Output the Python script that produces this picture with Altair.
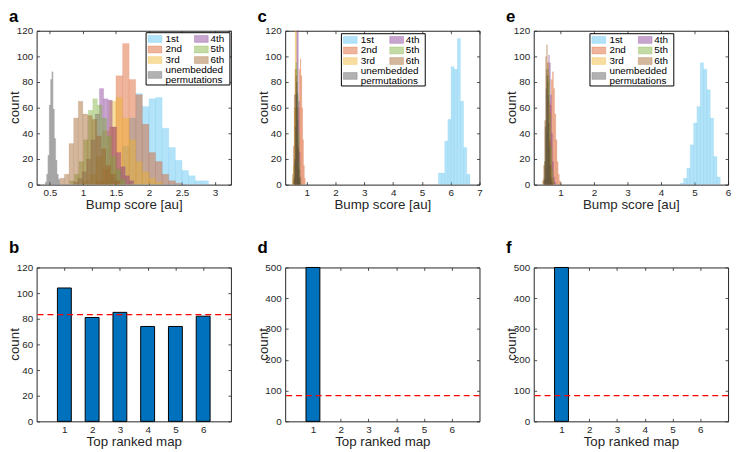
import altair as alt
import pandas as pd

# ---------------- data ----------------
SERIES = ["1st", "2nd", "3rd", "4th", "5th", "6th", "unembedded"]
SERIES_COLORS = ["#4DBEEE", "#D95319", "#EDB120", "#7E2F8E", "#77AC30", "#9C5A1E", "#4D4D4D"]
LEGEND_LABELS = ["1st", "2nd", "3rd", "4th", "5th", "6th", "unembedded", "permutations"]

# histograms: (first bin edge, bin width, counts per bin)
a_1st = (1.3, 0.1, [2, 5, 12, 30, 52, 71, 61, 67, 68, 44, 29, 19, 11, 7, 3, 3])
a_2nd = (1.2, 0.1, [3, 12, 45, 85, 110, 82, 70, 47, 25, 18, 8, 3, 1])
a_3rd = (1.0, 0.1, [3, 8, 22, 42, 65, 68, 52, 35, 18, 10, 5, 2])
a_4th = (0.86, 0.065, [2, 5, 10, 20, 35, 55, 75, 67, 66, 45, 25, 14, 7, 3])
a_5th = (0.80, 0.07, [3, 8, 18, 35, 58, 67, 62, 52, 38, 22, 12, 4])
a_6th = (0.65, 0.07, [5, 8, 32, 52, 65, 55, 54, 51, 38, 28, 15, 8, 3])
a_unemb = (0.43, 0.02, [2, 8, 23, 62, 82, 88, 59, 36, 19, 8, 4])

c_1st = (5.57, 0.11, [9, 9, 34, 51, 92, 90, 114, 65, 29, 8])
c_2nd = (0.62, 0.03, [4, 12, 30, 60, 90, 98, 85, 60, 35, 15, 5])
c_3rd = (0.50, 0.03, [3, 15, 60, 150, 140, 80, 35, 12, 5])
c_4th = (0.56, 0.03, [4, 20, 70, 160, 150, 65, 25, 6])
c_5th = (0.53, 0.03, [5, 20, 60, 95, 90, 70, 40, 18, 5])
c_6th = (0.50, 0.03, [8, 30, 70, 90, 85, 60, 30, 12, 5])
c_unemb = (0.56, 0.02, [5, 18, 45, 70, 80, 72, 50, 28, 12, 4])

e_1st = (4.57, 0.1, [1, 5, 13, 31, 48, 61, 95, 90, 74, 52, 22, 6])
e_2nd = (0.58, 0.035, [4, 12, 35, 62, 82, 88, 75, 55, 35, 18, 8, 3])
e_3rd = (0.49, 0.03, [3, 15, 45, 85, 95, 85, 55, 28, 12, 4])
e_4th = (0.52, 0.03, [3, 12, 40, 80, 101, 95, 70, 40, 18, 6, 2])
e_5th = (0.50, 0.03, [4, 18, 50, 80, 90, 82, 55, 30, 12, 4])
e_6th = (0.46, 0.03, [3, 15, 50, 100, 109, 95, 65, 35, 15, 5, 2])
e_unemb = (0.50, 0.02, [5, 18, 45, 75, 90, 85, 70, 48, 30, 15, 6, 2])

A_XDOMAIN = [0.3, 3.24]
A_XTICKS = [0.5, 1, 1.5, 2, 2.5, 3]
C_XDOMAIN = [0.25, 7]
C_XTICKS = [1, 2, 3, 4, 5, 6, 7]
E_XDOMAIN = [0.2, 6]
E_XTICKS = [1, 2, 3, 4, 5, 6]
HIST_YTICKS = [0, 20, 40, 60, 80, 100, 120]

MAPS = [1, 2, 3, 4, 5, 6]
b_counts = [104, 81, 85, 74, 74, 82]
d_counts = [500, 0, 0, 0, 0, 0]
f_counts = [500, 0, 0, 0, 0, 0]
EXPECTED = 83.3
B_YTICKS = [0, 20, 40, 60, 80, 100, 120]
DF_YTICKS = [0, 100, 200, 300, 400, 500]

# ---------------- style / layout ----------------
W, H = 197, 156
FONT = "Liberation Sans"
INK = "#262626"
ONE = pd.DataFrame({"k": [0]})
color_scale = alt.Scale(domain=SERIES, range=SERIES_COLORS)
FILL_OP = 0.43


def hist_df(series_list):
    rows = []
    for name, (start, width, counts) in zip(SERIES, series_list):
        for i, c in enumerate(counts):
            lo = start + i * width
            rows.append({"series": name, "lo": lo, "hi": lo + width, "count": c})
    return pd.DataFrame(rows)


def letter(ch, y):
    return alt.Chart(ONE).mark_text(
        align="left", baseline="alphabetic", fontSize=17, fontWeight="bold", color="black"
    ).encode(x=alt.value(-28), y=alt.value(y), text=alt.value(ch))


def ytitle():
    return alt.Chart(ONE).mark_text(
        align="center", baseline="bottom", angle=270, fontSize=13.5, color=INK
    ).encode(x=alt.value(-14.5), y=alt.value(H / 2), text=alt.value("count"))


def legend(bx, by):
    cols = [0, 0, 0, 1, 1, 1, 0]
    rows_y = [6.3, 17, 27.7, 6.3, 17, 27.7, 42.8]
    pdf = pd.DataFrame({
        "series": SERIES,
        "px": [bx + (2 if c == 0 else 49) for c in cols],
        "py": [by + r - 3.5 for r in rows_y],
    })
    pdf["px2"] = pdf["px"] + 14
    pdf["py2"] = pdf["py"] + 7
    tcols = [0, 0, 0, 1, 1, 1, 0, 0]
    trows = [6.3, 17, 27.7, 6.3, 17, 27.7, 37.8, 47.8]
    tdf = pd.DataFrame({
        "label": LEGEND_LABELS,
        "tx": [bx + (19.7 if c == 0 else 65.3) for c in tcols],
        "ty": [by + r for r in trows],
    })
    box = alt.Chart(ONE).mark_rect(fill="white", stroke="black", strokeWidth=1).encode(
        x=alt.value(bx), x2=alt.value(bx + 85), y=alt.value(by), y2=alt.value(by + 53)
    )
    patches = alt.Chart(pdf).mark_rect(
        fillOpacity=FILL_OP, strokeWidth=0.5, strokeOpacity=0.5
    ).encode(
        x=alt.X("px:Q", scale=None, axis=None),
        x2="px2:Q",
        y=alt.Y("py:Q", scale=None, axis=None),
        y2="py2:Q",
        fill=alt.Fill("series:N", scale=color_scale, legend=None),
        stroke=alt.Stroke("series:N", scale=color_scale, legend=None),
    )
    texts = alt.Chart(tdf).mark_text(
        align="left", baseline="middle", fontSize=10, color="black"
    ).encode(
        x=alt.X("tx:Q", scale=None, axis=None),
        y=alt.Y("ty:Q", scale=None, axis=None),
        text="label:N",
    )
    return [box, patches, texts]


def hist_panel(series_list, xdom, xticks, ch, bx, by):
    df = hist_df(series_list)
    bars = alt.Chart(df).mark_rect(
        clip=True, fillOpacity=FILL_OP, strokeWidth=0.35, strokeOpacity=0.3
    ).encode(
        x=alt.X("lo:Q", scale=alt.Scale(domain=xdom, nice=False, zero=False),
                axis=alt.Axis(values=xticks, format="~g", title="Bump score [au]",
                              gridDash=[3, H - 6, 3, 1000])),
        x2="hi:Q",
        y=alt.Y("count:Q", scale=alt.Scale(domain=[0, 120], nice=False),
                axis=alt.Axis(values=HIST_YTICKS, title=None, gridDash=[3, W - 6, 3, 1000])),
        y2=alt.datum(0),
        fill=alt.Fill("series:N", scale=color_scale, legend=None),
        stroke=alt.Stroke("series:N", scale=color_scale, legend=None),
    )
    return alt.layer(bars, *legend(bx, by), letter(ch, -9), ytitle()).properties(width=W, height=H)


def bar_panel(counts, ymax, yticks, ch):
    df = pd.DataFrame({"map": MAPS, "count": counts})
    xaxis = alt.Axis(values=MAPS, format="~g", title="Top ranked map", gridDash=[3, H - 6, 3, 1000])
    yaxis = alt.Axis(values=yticks, title=None, gridDash=[3, W - 6, 3, 1000])
    yscale = alt.Scale(domain=[0, ymax], nice=False)
    bars = alt.Chart(df).transform_filter("datum.count > 0").transform_calculate(
        lo="datum.map - 0.25", hi="datum.map + 0.25"
    ).mark_rect(fill="#0072BD", stroke="black", strokeWidth=1).encode(
        x=alt.X("lo:Q", scale=alt.Scale(domain=[0, 7], nice=False, zero=False), axis=xaxis),
        x2="hi:Q",
        y=alt.Y("count:Q", scale=yscale, axis=yaxis),
        y2=alt.datum(0),
    )
    rule = alt.Chart(ONE).mark_rule(color="#FF0000", strokeDash=[6, 4], strokeWidth=1.2).encode(
        y=alt.YDatum(EXPECTED, scale=yscale, axis=yaxis)
    )
    return alt.layer(bars, rule, letter(ch, -15), ytitle()).properties(width=W, height=H)


pa = hist_panel([a_1st, a_2nd, a_3rd, a_4th, a_5th, a_6th, a_unemb], A_XDOMAIN, A_XTICKS, "a", 111, 2)
pc = hist_panel([c_1st, c_2nd, c_3rd, c_4th, c_5th, c_6th, c_unemb], C_XDOMAIN, C_XTICKS, "c", 57, 3)
pe = hist_panel([e_1st, e_2nd, e_3rd, e_4th, e_5th, e_6th, e_unemb], E_XDOMAIN, E_XTICKS, "e", 57, 3)
pb = bar_panel(b_counts, 120, B_YTICKS, "b")
pd_ = bar_panel(d_counts, 500, DF_YTICKS, "d")
pf = bar_panel(f_counts, 500, DF_YTICKS, "f")

chart = alt.concat(
    pa, pc, pe, pb, pd_, pf,
    columns=3, spacing={"row": 84, "column": 55}, bounds="flush",
).properties(
    padding={"left": 0, "top": -4, "right": 0, "bottom": 0}
).configure(font=FONT).configure_view(
    stroke=INK, strokeWidth=1
).configure_axis(
    labelFont=FONT, labelFontSize=10, labelColor=INK,
    titleFont=FONT, titleFontSize=13.5, titleColor=INK, titleFontWeight="normal",
    domain=False, ticks=False, tickSize=0,
    grid=True, gridColor=INK, gridOpacity=1, gridWidth=0.8,
    labelFlush=False, labelOverlap=False,
).configure_axisX(labelPadding=3, titlePadding=0).configure_axisY(labelPadding=4)

chart.save("out.html", embed_options={"renderer": "svg", "actions": False})
